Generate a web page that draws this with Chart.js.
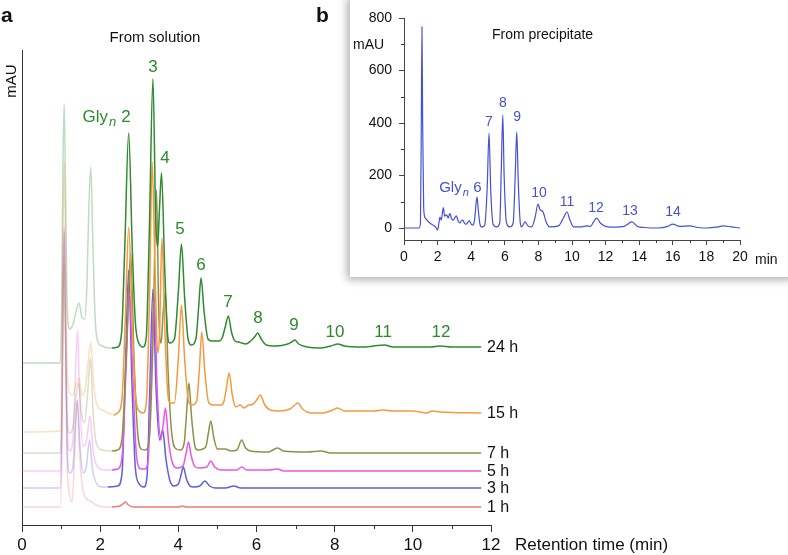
<!DOCTYPE html>
<html>
<head>
<meta charset="utf-8">
<script src="https://cdn.jsdelivr.net/npm/chart.js@4.4.1/dist/chart.umd.min.js"></script>
<style>
  html, body { margin: 0; padding: 0; background: #fff; }
  #wrap { position: relative; width: 788px; height: 555px; overflow: hidden; }
  #mainChart { position: absolute; left: 0; top: 0; }
  #inset { position: absolute; left: 350px; top: -6px; width: 446px; height: 283px; background: #fff;
           box-shadow: -3px 3px 8px rgba(0, 0, 0, 0.3); }
  #insetChart { position: absolute; left: 0; top: 6px; }
</style>
</head>
<body>
<div id="wrap">
  <canvas id="mainChart" width="788" height="555"></canvas>
  <div id="inset"><canvas id="insetChart" width="438" height="277"></canvas></div>
</div>
<script>
// ---- panel a: chromatograms from solution, [time (min), signal above the trace's baseline] ----
const hours = ['1 h', '3 h', '5 h', '7 h', '15 h', '24 h'];
const baselineOffsets = [18, 37, 54, 72, 112, 178];
const traceColors = ['240,122,122', '91,95,224', '232,85,232', '143,144,72', '244,153,63', '46,139,46'];

// early part of each run (drawn faded)
const early1h = [[0,0],[0.98,0],[1.02,60],[1.05,200],[1.08,277],[1.11,180],[1.15,50],[1.22,12],[1.28,5],[1.34,45],[1.41,107],[1.47,55],[1.55,20],[1.65,8],[1.75,6],[1.9,2],[2.1,0],[2.3,0]];
const early3h = [[0,0],[0.98,0],[1.02,60],[1.05,190],[1.08,256],[1.11,170],[1.15,50],[1.22,15],[1.3,20],[1.36,60],[1.42,88],[1.48,45],[1.56,15],[1.64,20],[1.73,48],[1.8,20],[1.9,5],[2.05,1],[2.2,1]];
const early5h = [[0,0],[0.98,0],[1.02,60],[1.05,190],[1.08,245],[1.11,170],[1.15,50],[1.22,20],[1.3,30],[1.36,90],[1.42,141],[1.48,70],[1.56,25],[1.65,30],[1.74,55],[1.82,20],[1.92,5],[2.1,1],[2.3,1]];
const early7h = [[0,0],[0.98,0],[1.02,50],[1.05,150],[1.08,190],[1.11,130],[1.15,40],[1.22,20],[1.3,25],[1.38,55],[1.45,70],[1.52,40],[1.6,30],[1.68,60],[1.75,95],[1.82,40],[1.9,10],[2.05,3],[2.3,2]];
const early15h = [[0,-19],[0.98,-18],[1.02,50],[1.05,180],[1.08,251],[1.11,170],[1.15,50],[1.22,20],[1.3,18],[1.38,28],[1.46,35],[1.53,18],[1.62,25],[1.69,50],[1.76,70],[1.83,30],[1.92,8],[2.05,3],[2.2,0],[2.35,-2]];
const early24h = [[0,-16],[0.98,-16],[1.02,60],[1.05,190],[1.08,243],[1.11,170],[1.15,50],[1.22,18],[1.3,22],[1.38,35],[1.46,44],[1.53,30],[1.6,28],[1.66,60],[1.71,140],[1.76,180],[1.81,110],[1.87,30],[1.94,5],[2.05,1],[2.2,-1],[2.3,-1]];

// main part of each run
const main1h = [[2.3,0],[2.5,1],[2.58,3],[2.65,5],[2.72,2],[2.85,0],[4.0,0],[4.1,1],[4.2,0],[11.75,0]];
const main3h = [[2.2,1],[2.45,2],[2.56,15],[2.64,110],[2.73,218],[2.81,110],[2.9,20],[3.0,4],[3.12,1],[3.2,12],[3.27,100],[3.35,199],[3.43,100],[3.52,48],[3.6,58],[3.68,30],[3.78,8],[3.88,2],[4.0,4],[4.07,13],[4.13,21],[4.2,10],[4.3,2],[4.38,1],[4.55,2],[4.68,7],[4.8,2],[4.95,0],[5.2,0],[5.42,2],[5.6,0],[11.75,0]];
const main5h = [[2.3,1],[2.45,2],[2.57,18],[2.66,100],[2.75,178],[2.84,90],[2.93,15],[3.05,2],[3.15,2],[3.23,12],[3.3,90],[3.38,176],[3.46,80],[3.55,31],[3.61,45],[3.67,63],[3.75,30],[3.85,8],[3.98,3],[4.12,5],[4.2,18],[4.26,29],[4.33,15],[4.43,4],[4.53,3],[4.73,4],[4.83,10],[4.93,4],[5.1,1],[5.5,1],[5.62,4],[5.75,1],[6.3,1],[6.54,2],[6.7,0],[11.75,0]];
const main7h = [[2.3,2],[2.45,3],[2.56,15],[2.67,100],[2.78,200],[2.87,90],[2.96,20],[3.05,4],[3.15,3],[3.26,15],[3.35,110],[3.44,263],[3.5,140],[3.56,110],[3.61,140],[3.67,160],[3.74,80],[3.83,20],[3.95,4],[4.05,3],[4.15,10],[4.21,40],[4.27,70],[4.34,35],[4.43,6],[4.5,3],[4.7,6],[4.77,20],[4.83,32],[4.91,15],[5.0,4],[5.2,4],[5.35,2],[5.5,3],[5.62,13],[5.72,5],[5.85,2],[6.3,1],[6.54,5],[6.7,2],[7.3,1],[7.65,2],[7.9,0],[11.75,0]];
const main15h = [[2.35,-2],[2.45,0],[2.56,15],[2.64,90],[2.73,186],[2.82,90],[2.9,20],[3.0,2],[3.1,0],[3.18,10],[3.26,110],[3.33,251],[3.4,150],[3.47,60],[3.52,80],[3.58,175],[3.65,90],[3.72,25],[3.8,10],[3.9,10],[4.0,55],[4.08,108],[4.16,55],[4.26,12],[4.35,8],[4.47,12],[4.54,45],[4.6,81],[4.68,40],[4.78,10],[4.9,8],[5.1,8],[5.17,12],[5.23,25],[5.3,40],[5.38,18],[5.47,6],[5.58,8],[5.68,5],[5.8,8],[5.92,9],[6.02,14],[6.1,18],[6.2,9],[6.35,3],[6.6,2],[6.85,4],[6.98,8],[7.06,10],[7.18,4],[7.4,0],[7.7,0],[7.95,3],[8.08,5],[8.25,2],[8.6,2],[9.0,2],[9.24,3],[9.5,2],[10.0,2],[10.2,1],[10.35,0],[10.5,2],[10.7,1],[11.75,0]];
const main24h = [[2.3,-1],[2.45,0],[2.55,15],[2.63,100],[2.73,214],[2.82,100],[2.9,25],[3.0,3],[3.1,0],[3.18,10],[3.26,120],[3.35,268],[3.42,130],[3.47,100],[3.52,140],[3.57,174],[3.65,80],[3.72,15],[3.78,4],[3.9,8],[4.0,55],[4.08,103],[4.16,50],[4.25,8],[4.33,2],[4.45,8],[4.52,40],[4.58,69],[4.66,35],[4.76,8],[4.85,6],[5.05,6],[5.12,9],[5.2,20],[5.28,31],[5.36,15],[5.45,6],[5.55,5],[5.62,4],[5.72,3],[5.85,6],[5.95,10],[6.03,14],[6.12,8],[6.25,2],[6.5,1],[6.8,3],[6.9,5],[6.98,7],[7.08,3],[7.3,0],[7.6,-1],[7.9,1],[8.08,3],[8.25,1],[8.7,0],[9.0,1],[9.27,2],[9.5,0],[10.2,0],[10.45,0],[10.7,1],[11.0,0],[11.75,0]];

const earlyRuns = [early1h, early3h, early5h, early7h, early15h, early24h];
const mainRuns = [main1h, main3h, main5h, main7h, main15h, main24h];

// Gly_n peak labels on the 24 h run: [name, time, height]
const solutionPeakNames = ['3', '4', '5', '6', '7', '8', '9', '10', '11', '12'];
const solutionPeakTimes = [3.35, 3.66, 4.04, 4.58, 5.27, 6.04, 6.96, 8.01, 9.24, 10.72];
const solutionPeakHeights = [458, 367, 296, 260, 223, 207, 200, 193, 193, 193];
const solutionFirstPeak = { name: '2', time: 2.66, height: 408 };
const solutionTicks = [0, 2, 4, 6, 8, 10, 12];

// ---- panel b: from precipitate, [time (min), mAU] ----
const precipitate = [[0,0],[0.9,0],[0.98,20],[1.03,400],[1.07,766],[1.11,400],[1.17,80],[1.25,40],[1.37,30],[1.55,18],[1.73,11],[1.9,2],[2.0,-8],[2.08,20],[2.14,42],[2.22,30],[2.3,65],[2.34,78],[2.42,45],[2.54,50],[2.63,38],[2.73,56],[2.83,35],[2.93,30],[3.03,40],[3.12,46],[3.22,28],[3.32,19],[3.42,28],[3.5,30],[3.6,18],[3.7,15],[3.8,22],[3.9,27],[4.0,15],[4.08,11],[4.2,30],[4.3,100],[4.35,118],[4.42,70],[4.52,15],[4.63,4],[4.8,10],[4.95,150],[5.06,362],[5.16,150],[5.3,15],[5.52,4],[5.7,20],[5.8,250],[5.88,430],[5.96,200],[6.1,20],[6.31,4],[6.5,20],[6.62,200],[6.71,366],[6.8,180],[6.92,20],[7.0,4],[7.2,23],[7.38,8],[7.6,4],[7.8,40],[7.98,91],[8.1,70],[8.28,61],[8.45,25],[8.67,4],[9.2,8],[9.5,40],[9.7,61],[9.88,30],[10.1,4],[10.5,4],[10.9,8],[11.1,6],[11.3,25],[11.47,38],[11.7,18],[12.1,4],[12.6,3],[13.1,6],[13.57,23],[13.9,6],[14.3,2],[15.1,0],[15.7,6],[16.0,15],[16.4,6],[17.0,8],[17.5,2],[18.0,0],[18.6,3],[19.0,8],[19.5,4],[20.0,0]];
const precipitatePeakNames = ['7', '8', '9', '10', '11', '12', '13', '14'];
const precipitatePeakTimes = [5.06, 5.89, 6.73, 8.04, 9.7, 11.43, 13.45, 16.01];
const precipitatePeakHeights = [404, 476, 423, 133, 99, 76, 65, 61];
const precipitateFirstPeak = { name: '6', time: 4.37, height: 152 };
const precipitateYTicks = [0, 200, 400, 600, 800];

const FONT = '"Liberation Sans", Arial, Helvetica, sans-serif';
Chart.defaults.font.family = FONT;
Chart.defaults.color = '#111';

const GREEN_TEXT = '#2b8a2b';
const BLUE_TEXT = '#4652d6';

function toPoints(run, offset) {
    return run.map(p => ({ x: p[0], y: p[1] + offset }));
}

function drawGlyLabel(ctx, cx, cy, num, size, color) {
    ctx.fillStyle = color;
    ctx.textBaseline = 'middle';
    ctx.textAlign = 'center';
    ctx.font = size + 'px ' + FONT;
    ctx.fillText(num, cx, cy);
    const numHalf = ctx.measureText(num).width / 2;
    ctx.font = 'italic ' + Math.round(size * 0.75) + 'px ' + FONT;
    ctx.textAlign = 'right';
    const nRight = cx - numHalf - size * 0.3;
    ctx.fillText('n', nRight, cy + size * 0.3);
    const nWidth = ctx.measureText('n').width;
    ctx.font = size + 'px ' + FONT;
    ctx.fillText('Gly', nRight - nWidth - 1, cy);
}

function drawMinorTicks(ctx, scale, values, horizontal, base, len) {
    ctx.strokeStyle = '#333';
    ctx.lineWidth = 1;
    values.forEach(v => {
        const p = Math.round(scale.getPixelForValue(v)) + 0.5;
        ctx.beginPath();
        if (horizontal) { ctx.moveTo(p, base); ctx.lineTo(p, base + len); }
        else { ctx.moveTo(base, p); ctx.lineTo(base - len, p); }
        ctx.stroke();
    });
}

// ---- panel a ----
const mainDatasets = [];
hours.forEach((h, i) => {
    mainDatasets.push({
        label: h + ' early',
        data: toPoints(earlyRuns[i], baselineOffsets[i]),
        borderColor: 'rgba(' + traceColors[i] + ',0.3)',
        borderWidth: 1.5,
        order: 20 - i
    });
    mainDatasets.push({
        label: h,
        data: toPoints(mainRuns[i], baselineOffsets[i]),
        borderColor: 'rgb(' + traceColors[i] + ')',
        borderWidth: 1.5,
        order: 10 - i
    });
});

const solutionText = {
    id: 'solutionText',
    afterDraw(chart) {
        const { ctx, chartArea, scales: { x, y } } = chart;
        ctx.save();
        drawMinorTicks(ctx, x, [1, 3, 5, 7, 9, 11], true, chartArea.bottom, 4);

        ctx.fillStyle = '#111';
        ctx.font = 'bold 21px ' + FONT;
        ctx.textAlign = 'left';
        ctx.textBaseline = 'alphabetic';
        ctx.fillText('a', 1, 22);
        ctx.fillText('b', 316, 22);

        ctx.font = '15px ' + FONT;
        ctx.textAlign = 'center';
        ctx.textBaseline = 'middle';
        ctx.fillText('From solution', 155, 38);

        ctx.save();
        ctx.translate(12, 81);
        ctx.rotate(-Math.PI / 2);
        ctx.fillText('mAU', 0, 0);
        ctx.restore();

        ctx.font = '17px ' + FONT;
        ctx.textAlign = 'left';
        ctx.fillText('Retention time (min)', 515, 545);

        ctx.font = '16px ' + FONT;
        hours.forEach((h, i) => {
            ctx.fillText(h, chartArea.right - 4, y.getPixelForValue(baselineOffsets[i]) + 1);
        });

        ctx.fillStyle = GREEN_TEXT;
        ctx.font = '17px ' + FONT;
        ctx.textAlign = 'center';
        solutionPeakNames.forEach((name, i) => {
            ctx.fillText(name, x.getPixelForValue(solutionPeakTimes[i]), y.getPixelForValue(solutionPeakHeights[i]));
        });
        drawGlyLabel(ctx, x.getPixelForValue(solutionFirstPeak.time), y.getPixelForValue(solutionFirstPeak.height),
            solutionFirstPeak.name, 17, GREEN_TEXT);
        ctx.restore();
    }
};

new Chart(document.getElementById('mainChart'), {
    type: 'line',
    data: { datasets: mainDatasets },
    options: {
        responsive: false,
        animation: false,
        layout: { padding: { left: 0, top: 50, right: 297, bottom: 0 } },
        elements: { point: { radius: 0 }, line: { cubicInterpolationMode: 'monotone' } },
        plugins: { legend: { display: false }, tooltip: { enabled: false } },
        scales: {
            x: {
                type: 'linear', min: 0, max: 12,
                afterBuildTicks: s => { s.ticks = solutionTicks.map(v => ({ value: v })); },
                border: { color: '#333', width: 1 },
                grid: { drawOnChartArea: false, tickLength: 7, color: '#333' },
                ticks: { font: { size: 17 }, color: '#111', padding: 3, maxRotation: 0, autoSkip: false },
                afterFit: s => { s.height = 30; }
            },
            y: {
                min: 0, max: 475,
                border: { color: '#333', width: 1 },
                grid: { drawOnChartArea: false, drawTicks: false },
                ticks: { display: false },
                afterFit: s => { s.width = 22; }
            }
        }
    },
    plugins: [solutionText]
});

// ---- panel b ----
const precipitateText = {
    id: 'precipitateText',
    afterDraw(chart) {
        const { ctx, chartArea, scales: { x, y } } = chart;
        ctx.save();
        drawMinorTicks(ctx, x, [1, 3, 5, 7, 9, 11, 13, 15, 17, 19], true, chartArea.bottom, 3);
        drawMinorTicks(ctx, y, [100, 300, 500, 700], false, chartArea.left, 3);

        ctx.fillStyle = '#111';
        ctx.font = '14px ' + FONT;
        ctx.textBaseline = 'middle';
        ctx.textAlign = 'left';
        ctx.fillText('mAU', 3, 45);
        ctx.fillText('From precipitate', 142, 35);
        ctx.fillText('min', 405, 260);

        ctx.fillStyle = BLUE_TEXT;
        ctx.textAlign = 'center';
        precipitatePeakNames.forEach((name, i) => {
            ctx.fillText(name, x.getPixelForValue(precipitatePeakTimes[i]), y.getPixelForValue(precipitatePeakHeights[i]));
        });
        drawGlyLabel(ctx, x.getPixelForValue(precipitateFirstPeak.time), y.getPixelForValue(precipitateFirstPeak.height),
            precipitateFirstPeak.name, 15, BLUE_TEXT);
        ctx.restore();
    }
};

new Chart(document.getElementById('insetChart'), {
    type: 'line',
    data: {
        datasets: [{
            label: 'From precipitate',
            data: precipitate.map(p => ({ x: p[0], y: p[1] })),
            borderColor: 'rgb(68,80,216)',
            borderWidth: 1.2
        }]
    },
    options: {
        responsive: false,
        animation: false,
        layout: { padding: { left: 0, top: 18, right: 48, bottom: 0 } },
        elements: { point: { radius: 0 }, line: { cubicInterpolationMode: 'monotone' } },
        plugins: { legend: { display: false }, tooltip: { enabled: false } },
        scales: {
            x: {
                type: 'linear', min: 0, max: 20,
                border: { color: '#444', width: 1 },
                grid: { drawOnChartArea: false, tickLength: 5, color: '#444' },
                ticks: { stepSize: 2, font: { size: 14 }, color: '#111', padding: 4, maxRotation: 0, autoSkip: false },
                afterFit: s => { s.height = 37; }
            },
            y: {
                min: -45.7, max: 800,
                afterBuildTicks: s => { s.ticks = precipitateYTicks.map(v => ({ value: v })); },
                border: { color: '#444', width: 1 },
                grid: { drawOnChartArea: false, tickLength: 5, color: '#444' },
                ticks: { font: { size: 14 }, color: '#111', padding: 7 },
                afterFit: s => { s.width = 54; }
            }
        }
    },
    plugins: [precipitateText]
});
</script>
</body>
</html>
